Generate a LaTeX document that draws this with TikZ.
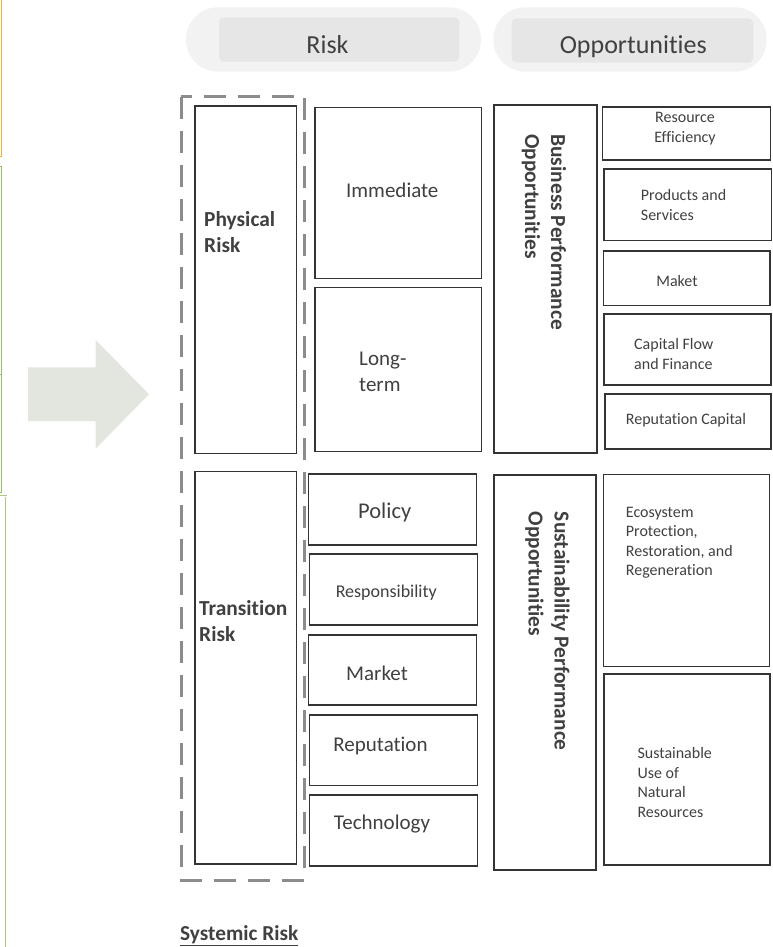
\documentclass[tikz,border=0pt]{standalone}
\usepackage{fontspec}
\setmainfont{Carlito}[Ligatures=NoCommon]
\usepackage{tikz}

\definecolor{txtgray}{RGB}{64,64,64}
\definecolor{boxgray}{RGB}{52,52,52}
\definecolor{pillout}{RGB}{242,242,242}
\definecolor{pillin}{RGB}{230,230,230}
\definecolor{dashgray}{RGB}{140,140,140}
\definecolor{arrowgray}{RGB}{227,229,223}
\definecolor{edgeorange}{RGB}{236,180,62}
\definecolor{edgegreen}{RGB}{150,188,100}

\begin{document}
\begin{tikzpicture}[x=1pt, y=-1pt,
    box/.style = {draw=boxgray, line width=1.4pt, inner sep=0pt},
    pill/.style = {fill=pillout, rounded corners=32pt, minimum height=64.4pt, inner sep=0pt},
    pillbar/.style = {fill=pillin, rounded corners=5pt, minimum height=44.4pt, inner sep=0pt},
    head/.style = {text=txtgray, inner sep=0pt, font=\fontsize{26}{31}\selectfont},
    lbl/.style = {text=txtgray, inner sep=0pt, align=left, font=\fontsize{21}{25.6}\selectfont},
    blbl/.style = {lbl, font=\fontsize{21.4}{26.1}\selectfont\bfseries},
    small/.style = {text=txtgray, inner sep=0pt, align=left, font=\fontsize{16}{19.5}\selectfont}]
    \useasboundingbox (0,0) rectangle (772,947);

    % cut-off frames at the left edge
    \draw[edgeorange, line width=1pt] (0,156) -- (1.7,156) -- (1.7,0);
    \draw[edgegreen, line width=1pt] (0,166.7) -- (1.7,166.7) -- (1.7,492.7) -- (0,492.7);
    \draw[edgegreen, line width=1pt] (0,374) -- (1.7,374);
    \draw[edgegreen!80, line width=0.7pt, double, double distance=0.8pt] (0,496) -- (6,496) -- (6,947);

    % big arrow
    \fill[arrowgray] (28,367.3) -- (95.7,367.3) -- (95.7,340) -- (149,394.3)
        -- (95.7,448.6) -- (95.7,421) -- (28,421) -- cycle;

    % headers
    \node[pill, minimum width=295pt] (riskpill) at (333.5,39.5) {};
    \node[pillbar, minimum width=240.3pt] (riskbar) at (339.2,39.5) {};
    \node[head, anchor=base] (riskhead) at (327.5,54) {Risk};
    \node[pill, minimum width=273.4pt] (opppill) at (630,39.5) {};
    \node[pillbar, minimum width=241.6pt] (oppbar) at (632.5,40.5) {};
    \node[head, anchor=base] (opphead) at (633.3,54) {Opportunities};

    % risk side
    \draw[dashgray, line width=3pt, dash pattern=on 22pt off 12pt] (181,97) rectangle (304.3,880);
    \node[box, minimum width=101.7pt, minimum height=347.3pt] (phys) at (245.8,279.7) {};
    \node[blbl, anchor=west] (tphys) at (204,232.5) {Physical\\Risk};
    \node[box, minimum width=101.7pt, minimum height=392.3pt] (trans) at (245.8,667.8) {};
    \node[blbl, anchor=west] (ttrans) at (199,620.8) {Transition\\Risk};

    \node[box, minimum width=166.7pt, minimum height=171pt] (imm) at (398.3,192.8) {};
    \node[lbl] (timm) at (392.3,190.7) {Immediate};
    \node[box, minimum width=166.7pt, minimum height=164.4pt] (long) at (398.3,369.5) {};
    \node[lbl, anchor=west] (tlong) at (359,372) {Long-\\term};

    \node[box, minimum width=168.4pt, minimum height=71pt] (pol) at (392.5,509.5) {};
    \node[lbl, font=\fontsize{22.5}{27}\selectfont] (tpol) at (384.7,512.5) {Policy};
    \node[box, minimum width=168.4pt, minimum height=71pt] (resp) at (393.5,589.5) {};
    \node[lbl, font=\fontsize{18}{22}\selectfont] (tresp) at (386.3,592.5) {Responsibility};
    \node[box, minimum width=168.4pt, minimum height=70pt] (mkt) at (392.5,670) {};
    \node[lbl] (tmkt) at (377,673.3) {Market};
    \node[box, minimum width=168.4pt, minimum height=70.7pt] (rep) at (393.5,750.3) {};
    \node[lbl] (trep) at (380.5,745.5) {Reputation};
    \node[box, minimum width=168.4pt, minimum height=71pt] (tech) at (393.5,830.5) {};
    \node[lbl] (ttech) at (382,824.5) {Technology};

    \node[blbl, anchor=base west, font=\fontsize{21.3}{26}\selectfont\bfseries] (tsys) at (180,940) {\underline{Systemic Risk}};

    % opportunity side
    \node[box, minimum width=103pt, minimum height=348pt] (bus) at (545.5,279) {};
    \node[blbl, anchor=west, rotate=-90] (tbus) at (544,134.3) {Business Performance\\Opportunities};
    \node[box, minimum width=102pt, minimum height=395pt] (sus) at (545,672.5) {};
    \node[blbl, anchor=west, rotate=-90] (tsus) at (547.5,511.7) {Sustainability Performance\\Opportunities};

    \node[box, minimum width=168pt, minimum height=53pt] (reff) at (686.7,133.5) {};
    \node[small, align=center] (treff) at (685,128.7) {Resource\\Efficiency};
    \node[box, minimum width=167.7pt, minimum height=71.7pt] (prod) at (687.8,204.8) {};
    \node[small, anchor=west] (tprod) at (640.7,205) {Products and\\Services};
    \node[box, minimum width=166.7pt, minimum height=54.7pt] (mak) at (686.7,278.3) {};
    \node[small] (tmak) at (677,280.7) {Maket};
    \node[box, minimum width=167pt, minimum height=71pt] (cap) at (687.5,349.5) {};
    \node[small, anchor=west] (tcap) at (634,354) {Capital Flow\\and Finance};
    \node[box, minimum width=166pt, minimum height=55pt] (repc) at (688,421.5) {};
    \node[small] (trepc) at (686,420) {Reputation Capital};

    \node[box, minimum width=166pt, minimum height=192.4pt] (eco) at (686.3,570.5) {};
    \node[small, anchor=west] (teco) at (625.7,542.5) {Ecosystem\\Protection,\\Restoration, and\\Regeneration};
    \node[box, minimum width=166pt, minimum height=191pt] (nat) at (687,769.5) {};
    \node[small, anchor=west] (tnat) at (637.3,782.7) {Sustainable\\Use of\\Natural\\Resources};
\end{tikzpicture}
\end{document}
